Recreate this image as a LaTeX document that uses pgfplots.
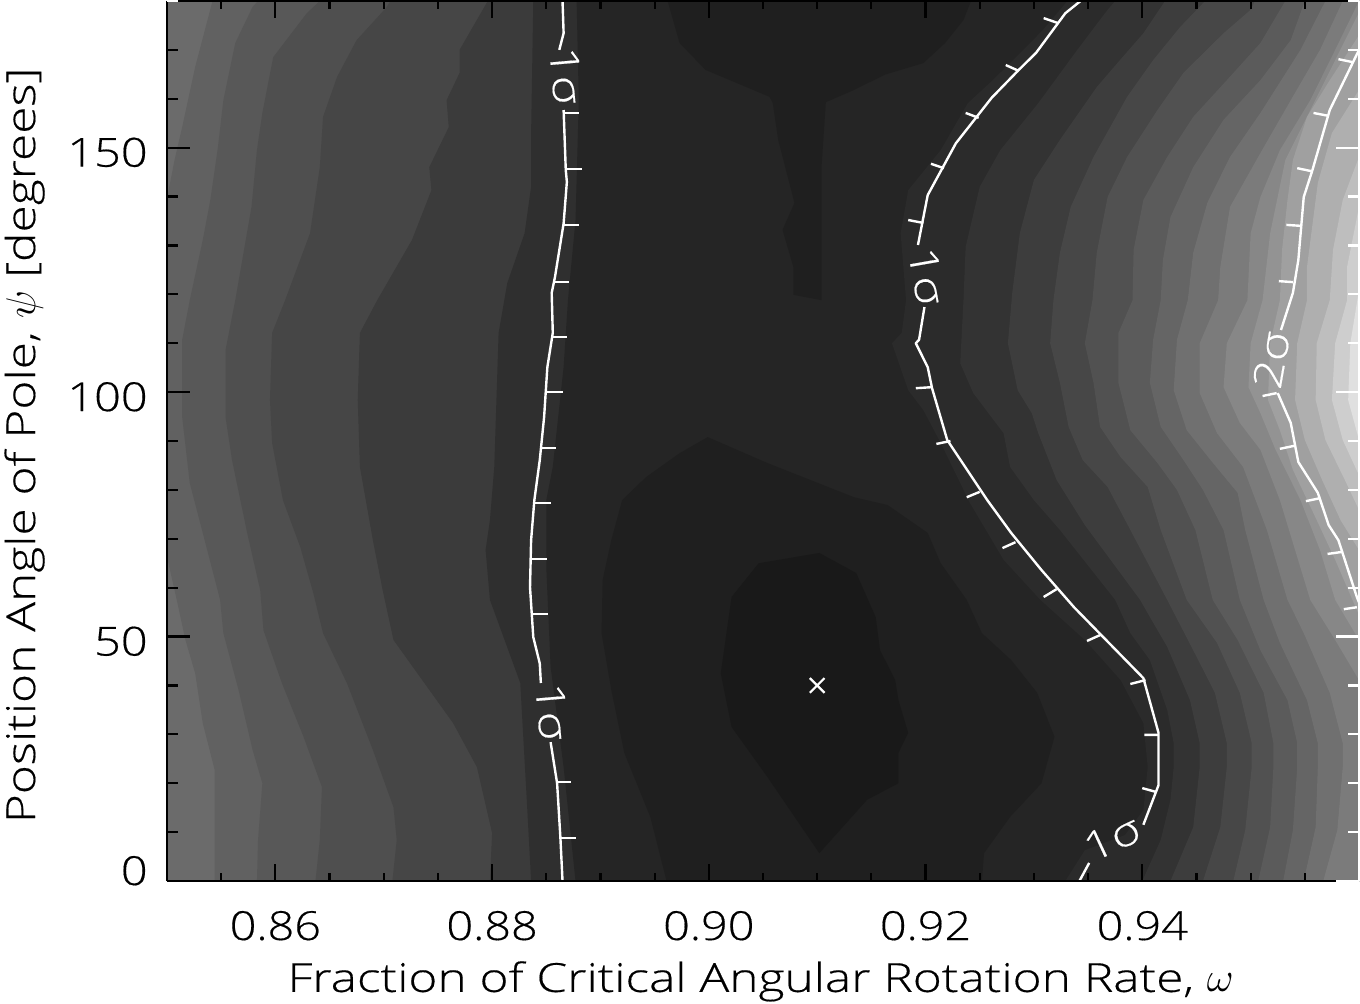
\documentclass[border=0pt]{standalone}
\usepackage{fontspec}
\setmainfont[FakeStretch=1.17,FakeBold=0.4]{Open Sans Light}
\newfontfamily\lab[FakeStretch=1.24,FakeBold=0.4]{Open Sans Light}
\usepackage{pgfplots}
\pgfplotsset{compat=1.18}
\pgfplotsset{
  band/.style={fill={rgb,255:red,#1;green,#1;blue,#1},draw=none,forget plot},
  cline/.style={white,line width=1.2pt,line join=round,forget plot,unbounded coords=jump},
  common/.style={scale only axis,width=596pt,height=440pt,xmin=0.85,xmax=0.96,ymin=0,ymax=180,
    clip=true,enlargelimits=false},
}
\begin{document}
\begin{tikzpicture}[x=1pt,y=1pt]
\path[use as bounding box] (-83.5pt,-61pt) rectangle (596.5pt,440.5pt);
% ---------- filled contours ----------
\begin{axis}[common,hide axis,at={(0pt,0pt)},anchor=south west]
\addplot[band=107] coordinates {(.85,0)(.85,180)(.96,180)(.96,0)};
% left side bands, getting darker to the right
\addplot[band=97] coordinates {(.8542,180)(.8526,166.5)(.8514,154.2)(.8507,147.5)(.8501,140.7)(.85,139)(.85,66.3)(.8509,57.5)(.8517,49.3)(.8526,42.5)(.8533,32.3)(.8544,22.7)(.8544,4.9)(.8544,0)(.96,0)(.96,180)};
\addplot[band=88] coordinates {(.8584,180)(.8579,178.8)(.8563,171.4)(.8552,159.7)(.8547,150.1)(.8540,139.3)(.8533,131.1)(.8521,118.8)(.8514,110.7)(.8514,94.9)(.8521,81.4)(.8533,71.2)(.8546,60.1)(.8549,57.5)(.8552,50.7)(.8566,39.1)(.8579,26.8)(.8588,20)(.8584,8.4)(.8583,0)(.96,0)(.96,180)};
\addplot[band=79] coordinates {(.8641,180)(.8629,177.5)(.8598,168.5)(.8588,157.1)(.8583,149.5)(.8578,137.9)(.8563,118.8)(.8554,108.6)(.8554,94.9)(.8560,86.1)(.8574,71.2)(.8586,59.5)(.8589,51.3)(.8606,40.5)(.8626,29.5)(.8643,19.2)(.8641,8.4)(.8637,0)(.96,0)(.96,180)};
\addplot[band=70] coordinates {(.8706,180)(.8703,178.8)(.8675,172)(.8657,164.5)(.8644,156.3)(.8641,146)(.8632,132.5)(.8609,118.8)(.8597,112.1)(.8595,98.4)(.8597,89.6)(.8607,77.9)(.8623,68.3)(.8635,58.9)(.8644,50.7)(.8666,40.5)(.8690,26.8)(.8709,15.1)(.8712,8.4)(.8708,0)(.96,0)(.96,180)};
\addplot[band=59] coordinates {(.8796,180)(.8770,170)(.8770,165.3)(.8758,159.7)(.8760,154.2)(.8742,146)(.8744,141.3)(.8726,131.1)(.8694,118.8)(.8678,112.1)(.8676,98.4)(.8678,84.7)(.8690,69.7)(.8699,59.5)(.8709,49.3)(.8731,42.5)(.8764,32.3)(.8786,23.3)(.8800,9.8)(.8798,0)(.96,0)(.96,180)};
\addplot[band=47] coordinates {(.8838,180)(.8836,153)(.8836,142)(.8830,132.5)(.8814,122.3)(.8806,112.1)(.8802,84.7)(.8798,73.8)(.8794,67.7)(.8798,57.5)(.8826,40.5)(.8832,16.6)(.8836,0)(.96,0)(.96,180)};
\addplot[band=37] coordinates {(.8878,180)(.8880,159.7)(.8877,135.2)(.8870,118.8)(.8866,105.1)(.8856,84.7)(.8850,77.9)(.8850,64.2)(.8854,43.8)(.8866,23.3)(.8877,0)(.96,0)(.96,180)};
% right side bands, getting lighter to the right
\addplot[band=43] coordinates {(.9331,180)(.9308,174)(.9292,170.4)(.9262,163.8)(.9239,159.1)(.9214,149.5)(.9184,141.3)(.9177,132.5)(.9182,118.8)(.9178,112.1)(.9169,110)(.9184,100.4)(.9198,96.3)(.9214,89.6)(.9241,77.3)(.9272,65.7)(.9306,57.5)(.9347,49.3)(.9380,41.1)(.9401,32.3)(.9405,23.3)(.9401,14.5)(.9384,9.4)(.9347,6.3)(.9329,0)(.96,0)(.96,180)};
\addplot[band=51] coordinates {(.9375,180)(.9368,178.2)(.9340,170)(.9304,159.1)(.9269,149.5)(.9250,142)(.9237,129.7)(.9235,118.8)(.9232,105.9)(.9244,99.8)(.9272,91.6)(.9278,84.7)(.9300,77.9)(.9324,71.8)(.9375,57.5)(.9389,50.7)(.9407,45.2)(.9423,35)(.9429,28.2)(.9429,23.3)(.9426,16.6)(.9417,8.4)(.9400,0)(.96,0)(.96,180)};
\addplot[band=61] coordinates {(.9421,180)(.9401,173.4)(.9377,167.3)(.9358,162.4)(.9324,151.6)(.9300,143.4)(.9287,132.5)(.9280,120.3)(.9276,110)(.9285,100.4)(.9298,95.7)(.9304,91.6)(.9321,82)(.9347,72.8)(.9398,57.5)(.9407,54)(.9423,47.9)(.9444,37)(.9453,28.2)(.9453,23.3)(.9447,11)(.9426,0)(.96,0)(.96,180)};
\addplot[band=71] coordinates {(.9458,180)(.9435,174.7)(.9410,167.9)(.9386,160.4)(.9355,148.1)(.9334,137.9)(.9324,128.5)(.9318,118.8)(.9315,110)(.9324,101.9)(.9332,92.9)(.9345,86.1)(.9368,80.6)(.9389,71.8)(.9423,57.5)(.9447,47.2)(.9467,38.5)(.9478,28.2)(.9478,23.3)(.9472,11)(.9456,0)(.96,0)(.96,180)};
\addplot[band=81] coordinates {(.9504,180)(.9500,178.2)(.9475,173.4)(.9438,165.3)(.9414,157.7)(.9386,148.1)(.9368,139.9)(.9358,128.5)(.9354,118.8)(.9347,110)(.9355,101.9)(.9361,92.9)(.9380,86.7)(.9405,80.6)(.9417,71.8)(.9441,57.5)(.9469,48.7)(.9490,38.5)(.9501,28.2)(.9501,23.3)(.9495,10.4)(.9484,0)(.96,0)(.96,180)};
\addplot[band=91] coordinates {(.9532,180)(.9509,171.4)(.9478,163.8)(.9447,156.3)(.9423,148.1)(.9401,139.3)(.9392,129.1)(.9391,118.8)(.9378,112.1)(.9378,101.9)(.9389,92.2)(.9414,85.5)(.9432,80)(.9449,71.8)(.9465,57.5)(.9488,49.3)(.9512,38.5)(.9521,28.2)(.9521,23.3)(.9518,11)(.9507,0)(.96,0)(.96,180)};
\addplot[band=101] coordinates {(.9550,180)(.9537,172)(.9509,163.8)(.9475,155.7)(.9447,146)(.9426,135.8)(.9419,127)(.9417,118.8)(.9410,110.7)(.9407,101.9)(.9417,92.9)(.9438,86.1)(.9456,80)(.9475,71.8)(.9490,57.5)(.9509,47.2)(.9534,37)(.9543,28.2)(.9543,23.3)(.9539,10.4)(.9530,0)(.96,0)(.96,180)};
\addplot[band=112] coordinates {(.9569,180)(.9546,170)(.9509,157.1)(.9481,148.1)(.9460,138.7)(.9447,128.5)(.9442,118.8)(.9432,110.7)(.9429,100.4)(.9441,92.2)(.9463,86.1)(.9488,79.4)(.9495,71.8)(.9512,57.5)(.9527,48.7)(.9552,37)(.9562,28.2)(.9562,23.3)(.9560,11)(.9549,0)(.96,0)(.96,180)};
\addplot[band=123] coordinates {(.9585,180)(.9564,170)(.9537,159.7)(.9509,148.9)(.9495,143.4)(.9481,137.9)(.9472,125.6)(.9470,118.8)(.9453,110)(.9453,99.8)(.9469,91.6)(.9493,84.7)(.9515,71.8)(.9534,57.5)(.9549,50.7)(.9573,38.5)(.9585,28.2)(.9585,23.3)(.9580,10.4)(.9567,0)(.96,0)(.96,180)};
\addplot[band=135] coordinates {(.96,180)(.9578,170)(.9555,159.7)(.9527,149.5)(.9509,139.9)(.9500,132.5)(.9497,118.8)(.9478,110)(.9475,101)(.9490,93.7)(.9509,88.2)(.9527,77.9)(.9541,67.7)(.9555,57.5)(.9578,49.3)(.96,41.1)};
\addplot[band=147] coordinates {(.96,177.7)(.9578,167.9)(.9555,157.7)(.9532,147.5)(.9518,132.5)(.9511,118.8)(.9500,110)(.9498,101)(.9509,95.7)(.9523,88.2)(.9546,77.9)(.9564,67.7)(.9578,57.5)(.96,49.3)};
\addplot[band=160] coordinates {(.96,173)(.9573,163.8)(.9552,156.3)(.9539,147.5)(.9534,139.3)(.9529,129.1)(.9527,118.8)(.9518,110)(.9516,98.4)(.9527,92.2)(.9539,84.1)(.9561,73.8)(.9578,65.7)(.96,54.4)};
\addplot[band=175] coordinates {(.96,161.8)(.9575,153)(.9562,142.8)(.9552,125.6)(.9552,118.8)(.9543,110)(.9541,98.4)(.9550,90.2)(.9566,82)(.9583,73.8)(.96,67.7)};
\addplot[band=190] coordinates {(.96,148.1)(.9585,139.3)(.9576,129.1)(.9573,118.8)(.9561,110)(.9560,98.4)(.9569,90.2)(.9587,82)(.96,75.9)};
\addplot[band=206] coordinates {(.96,137.9)(.9589,125.6)(.9589,118.8)(.9578,110)(.9575,98.4)(.9585,90.2)(.96,83)};
\addplot[band=224] coordinates {(.96,120.9)(.9592,110)(.9590,98.4)(.96,90.2)};
% central minima
\addplot[band=31] coordinates {(.8961,0)(.8946,13.1)(.8922,26.2)(.8910,39.1)(.8901,50.7)(.8902,61.6)(.8910,69.7)(.8920,77.9)(.8942,82.6)(.8973,87.5)(.8999,90.8)(.9054,85.5)(.9134,78.5)(.9165,76.9)(.9202,71.2)(.9214,65)(.9238,57.5)(.9252,50.7)(.9279,45.2)(.9303,38.5)(.9319,29.5)(.9307,20)(.9278,13.1)(.9254,5.7)(.9252,0)};
\addplot[band=31] coordinates {(.8962,180)(.8973,171.4)(.8997,165.9)(.9056,160.4)(.9059,159.1)(.9064,151.6)(.9076,141.3)(.9079,138.7)(.9068,133.2)(.9078,125.6)(.9078,119.9)(.9104,118.8)(.9104,137.9)(.9104,146)(.9108,159.3)(.9134,161.8)(.9162,164.9)(.9198,167.3)(.9218,171.4)(.9235,176.1)(.9242,180)};
\addplot[band=25] coordinates {(.9102,67.1)(.9046,65)(.9021,58.1)(.9011,42.5)(.9021,31.5)(.9054,21.3)(.9102,5.7)(.9146,16.6)(.9175,20)(.9175,26.2)(.9184,30.3)(.9175,37)(.9172,41.1)(.9158,47.2)(.9154,54)(.9136,63)};
% 1 sigma, left
\addplot[cline] coordinates {(.8865,180)(.8866,173.4)(.8862,170)};
\addplot[cline] coordinates {(.8866,157.7)(.8868,145.4)(.8869,143)(.8866,134.5)(.8858,123.5)(.8855,120.3)(.8856,112.1)(.8851,105.1)(.8848,94.9)(.8844,86.1)(.8839,77.9)(.8836,69.7)(.8835,60.1)(.8838,49.9)(.8844,44.5)(.8845,40.5)};
\addplot[cline] coordinates {(.8854,28.4)(.8860,20)(.8863,9)(.8865,0)};
\addplot[cline] coordinates {(.8866,157.1)(.8880,157.1)(.9,nan)(.8869,145.6)(.8883,145.6)(.9,nan)(.8866,134.2)(.8880,134.2)(.9,nan)(.8858,122.5)(.8871,122.5)(.9,nan)(.8856,111.3)(.8869,111.3)(.9,nan)(.8851,100)(.8865,100)(.9,nan)(.8846,88.6)(.8859,88.6)(.9,nan)(.8839,77.3)(.8854,77.3)(.9,nan)(.8837,65.9)(.8851,65.9)(.9,nan)(.8838,54.6)(.8852,54.6)(.9,nan)(.8860,20.2)(.8873,20.2)(.9,nan)(.8863,8.8)(.8877,8.8)};
% 1 sigma, right
\addplot[cline] coordinates {(.9343,180)(.9329,177.5)(.9302,169.4)(.9286,165.9)(.9261,160.2)(.9228,150.9)(.9202,140.3)(.9193,130.1)};
\addplot[cline] coordinates {(.9199,117.4)(.9194,110.7)(.9191,110)(.9202,105.1)(.9206,100.8)(.9220,90.2)(.9257,77.9)(.9279,71.2)(.9307,63.6)(.9337,56)(.9401,41.5)(.9415,30.3)(.9415,19.6)(.9401,11.5)};
\addplot[cline] coordinates {(.9351,3.7)(.9342,0)};
\addplot[cline] coordinates {(.9322,175.5)(.9309,176.5)(.9,nan)(.9286,165.7)(.9274,166.9)(.9,nan)(.9249,156.1)(.9237,157.1)(.9,nan)(.9217,145.8)(.9205,146.7)(.9,nan)(.9198,134.6)(.9184,135.2)(.9,nan)(.9205,101)(.9191,100.8)(.9,nan)(.9223,90)(.9210,89.4)(.9,nan)(.9250,79.6)(.9238,78.5)(.9,nan)(.9283,69.3)(.9271,68.1)(.9,nan)(.9321,59.7)(.9309,58.1)(.9,nan)(.9361,50.3)(.9349,49.1)(.9,nan)(.9403,41.1)(.9389,40.3)(.9,nan)(.9415,29.9)(.9402,29.9)(.9,nan)(.9413,18.2)(.9400,19)};
% 2 sigma
\addplot[cline] coordinates {(.96,170)(.9573,157.7)(.9557,145.4)(.9549,139.9)(.9544,127)(.9539,120.3)(.9528,112.7)};
\addplot[cline] coordinates {(.9525,99.8)(.9537,93.7)(.9544,85.7)(.9562,79.4)(.9572,72.8)(.9581,69.7)(.9598,58.1)(.96,57)};
\addplot[cline] coordinates {(.9594,167.5)(.9581,168.1)(.9,nan)(.9572,156.5)(.9558,157.1)(.9,nan)(.9556,145.2)(.9543,145.8)(.9,nan)(.9547,134)(.9533,134.2)(.9,nan)(.9539,122.5)(.9526,122.7)(.9,nan)(.9524,99.8)(.9511,99.2)(.9,nan)(.9540,89)(.9527,88.4)(.9,nan)(.9564,78.3)(.9551,77.7)(.9,nan)(.9584,67.3)(.9571,66.9)(.9,nan)(.9598,56)(.9586,55.6)};
% best fit
\addplot[white,only marks,mark=x,mark size=5.2pt,mark options={line width=1.1pt},forget plot] coordinates {(0.91,40)};
\node[white,rotate=-85,inner sep=0pt,font=\lab\fontsize{20}{22}\selectfont] at (axis cs:.8868,164.7) {1σ};
\node[white,rotate=-85,inner sep=0pt,font=\lab\fontsize{20}{22}\selectfont] at (axis cs:.8855,34.6) {1σ};
\node[white,rotate=-80,inner sep=0pt,font=\lab\fontsize{20}{22}\selectfont] at (axis cs:.9201,123.7) {1σ};
\node[white,rotate=80,inner sep=0pt,font=\lab\fontsize{20}{22}\selectfont] at (axis cs:.9519,106.6) {2σ};
\node[white,rotate=25,inner sep=0pt,font=\lab\fontsize{20}{22}\selectfont] at (axis cs:.9372,8.8) {1σ};
\end{axis}
% ---------- x axis, both sides ----------
\begin{axis}[common,at={(0pt,0pt)},anchor=south west,
  axis y line=none,axis x line=box,ytick=\empty,
  axis line style={line width=1.1pt,black},
  every tick/.style={black,line width=1.1pt},
  tick align=inside,major tick length=8.5pt,minor tick length=4pt,
  xtick={0.86,0.88,0.90,0.92,0.94},
  xticklabels={0.86,0.88,0.90,0.92,0.94},
  minor xtick={0.855,0.865,0.87,0.875,0.885,0.89,0.895,0.905,0.91,0.915,0.925,0.93,0.935,0.945,0.95,0.955},
  xticklabel style={font=\fontsize{20}{24}\selectfont,inner sep=0pt,anchor=base,yshift=-29.5pt},
  xlabel={Fraction of Critical Angular Rotation Rate, $\omega$},
  xlabel style={font=\lab\fontsize{20}{24}\selectfont,inner sep=0pt,anchor=base,at={(axis description cs:0.498,-0.126)}},
]
\end{axis}
% ---------- left y axis ----------
\begin{axis}[common,at={(0pt,0pt)},anchor=south west,
  axis x line=none,axis y line*=left,xtick=\empty,
  axis line style={line width=1.1pt,black},
  every tick/.style={black,line width=1.1pt},
  tick align=inside,major tick length=11.5pt,minor tick length=5.5pt,
  ytick={0,50,100,150},yticklabels={,50,100,150},
  minor ytick={10,20,30,40,60,70,80,90,110,120,130,140,160,170},
  yticklabel style={font=\fontsize{20}{24}\selectfont,inner sep=0pt,anchor=base east,xshift=-9.5pt,yshift=-9.5pt},
  ylabel={Position Angle of Pole, $\psi$ [degrees]},
  ylabel style={font=\lab\fontsize{20}{24}\selectfont,inner sep=0pt,anchor=base,rotate=0,at={(axis description cs:-0.1107,0.495)}},
  clip=false,
]
\node[font=\fontsize{20}{24}\selectfont,inner sep=0pt,anchor=base east] at (rel axis cs:0,0) [xshift=-9.5pt,yshift=-2pt] {0};
\end{axis}
% ---------- right y axis, white ----------
\begin{axis}[common,at={(0pt,0pt)},anchor=south west,
  axis x line=none,axis y line*=right,xtick=\empty,
  axis line style={line width=1.1pt,white},
  every tick/.style={white,line width=1.1pt},
  tick align=inside,major tick length=11.5pt,minor tick length=5.5pt,
  ytick={0,50,100,150},yticklabels={},
  minor ytick={10,20,30,40,60,70,80,90,110,120,130,140,160,170,180},
  clip=false,
]
\addplot[white,line width=1.1pt,forget plot] coordinates {(.85,180)(.851,180)};
\end{axis}
\end{tikzpicture}
\end{document}
